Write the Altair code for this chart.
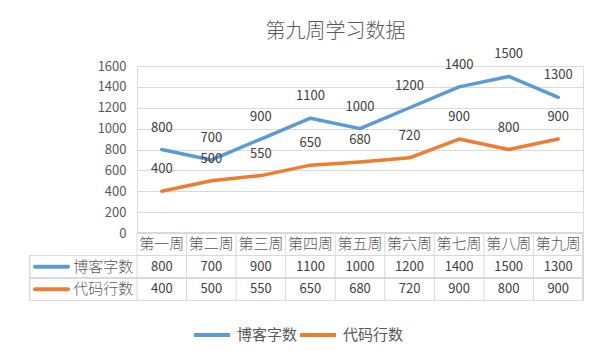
import altair as alt
import pandas as pd

weeks = ["第一周", "第二周", "第三周", "第四周", "第五周", "第六周", "第七周", "第八周", "第九周"]
series_names = ["博客字数", "代码行数"]
blog_words = [800, 700, 900, 1100, 1000, 1200, 1400, 1500, 1300]
code_lines = [400, 500, 550, 650, 680, 720, 900, 800, 900]
y_ticks = [0, 200, 400, 600, 800, 1000, 1200, 1400, 1600]
colors = ["#5B9BD5", "#ED7D31"]
title_text = "第九周学习数据"

FONT = "Noto Sans CJK SC"
W, H = 446, 167
STEP = W / len(weeks)

rows = []
for w, b, c in zip(weeks, blog_words, code_lines):
    rows.append({"week": w, "series": series_names[0], "value": b})
    rows.append({"week": w, "series": series_names[1], "value": c})
df = pd.DataFrame(rows)
wk = pd.DataFrame({"week": weeks})
sdf = pd.DataFrame({"series": series_names})

x = alt.X("week:N", sort=weeks, scale=alt.Scale(type="point", padding=0.5, domain=weeks), axis=None)
y = alt.Y("value:Q", scale=alt.Scale(domain=[0, 1600], nice=False),
          axis=alt.Axis(values=y_ticks, format="d", title=None, domain=False, ticks=False, labelPadding=11,
                        gridColor="#D9D9D9", gridWidth=1, labelColor="#595959", labelFontSize=13,
                        labelFont=FONT))
color = alt.Color("series:N", sort=series_names,
                  scale=alt.Scale(domain=series_names, range=colors),
                  legend=alt.Legend(orient="none", legendX=55, legendY=249, direction="horizontal",
                                    title=None, symbolType="stroke", symbolSize=1296,
                                    symbolStrokeWidth=4, labelFontSize=15, labelFont=FONT,
                                    labelColor="#595959", labelOffset=5, columnPadding=-7))

base = alt.Chart(df)
lines = base.mark_line(strokeWidth=3.5, strokeCap="round", strokeJoin="round").encode(x=x, y=y, color=color)
labels = base.mark_text(dy=-22, fontSize=13, font=FONT, color="#404040").encode(
    x=x, y=y, text="value:Q")

# data table
GRID = "#D9D9D9"
ROW_T, ROW_1, ROW_2, ROW_B = 167, 189.5, 212, 234.5
LEFT = -107.4

header = alt.Chart(wk).mark_text(fontSize=15, font=FONT, color="#595959", fontWeight=300).encode(
    x=x, y=alt.value((ROW_T + ROW_1) / 2), text="week:N")
vals1 = base.transform_filter(alt.datum.series == series_names[0]).mark_text(
    fontSize=13, font=FONT, color="#404040").encode(x=x, y=alt.value((ROW_1 + ROW_2) / 2), text="value:Q")
vals2 = base.transform_filter(alt.datum.series == series_names[1]).mark_text(
    fontSize=13, font=FONT, color="#404040").encode(x=x, y=alt.value((ROW_2 + ROW_B) / 2), text="value:Q")

vlines = alt.Chart(wk).mark_rule(color=GRID, xOffset=-STEP / 2).encode(
    x=x, y=alt.value(ROW_T), y2=alt.value(ROW_B))
grid_layers = [header, vals1, vals2, vlines]
grid_layers.append(alt.Chart(wk).mark_rule(color=GRID).encode(
    x=alt.value(W), y=alt.value(ROW_T), y2=alt.value(ROW_B)))
grid_layers.append(alt.Chart(wk).mark_rule(color=GRID).encode(
    x=alt.value(LEFT), y=alt.value(ROW_1), y2=alt.value(ROW_B)))
grid_layers.append(alt.Chart(wk).mark_rule(color=GRID).encode(
    x=alt.value(0), x2=alt.value(W), y=alt.value(ROW_T)))
for yy in (ROW_1, ROW_2, ROW_B):
    grid_layers.append(alt.Chart(wk).mark_rule(color=GRID).encode(
        x=alt.value(LEFT), x2=alt.value(W), y=alt.value(yy)))

for i, (name, col) in enumerate(zip(series_names, colors)):
    yy = (ROW_1 + ROW_2) / 2 if i == 0 else (ROW_2 + ROW_B) / 2
    s = alt.Chart(sdf).transform_filter(alt.datum.series == name)
    grid_layers.append(s.mark_rule(color=col, strokeWidth=4, strokeCap="round").encode(
        x=alt.value(-102), x2=alt.value(-69), y=alt.value(yy)))
    grid_layers.append(s.mark_text(align="right", fontSize=15, font=FONT, color="#595959",
                                   fontWeight=300).encode(
        x=alt.value(-3.7), y=alt.value(yy), text="series:N"))

chart = alt.layer(lines, labels, *grid_layers).properties(
    width=W, height=H,
    title=alt.TitleParams(title_text, fontSize=20, font=FONT, color="#595959", fontWeight=300,
                          anchor="middle", dx=-24.5, dy=-2),
    autosize=alt.AutoSizeParams(type="none"),
    padding={"left": 129, "top": 58, "right": 12, "bottom": 119},
).configure_view(stroke=None).configure(background="white")

chart.save("out.html", embed_options={"renderer": "svg", "actions": False})
